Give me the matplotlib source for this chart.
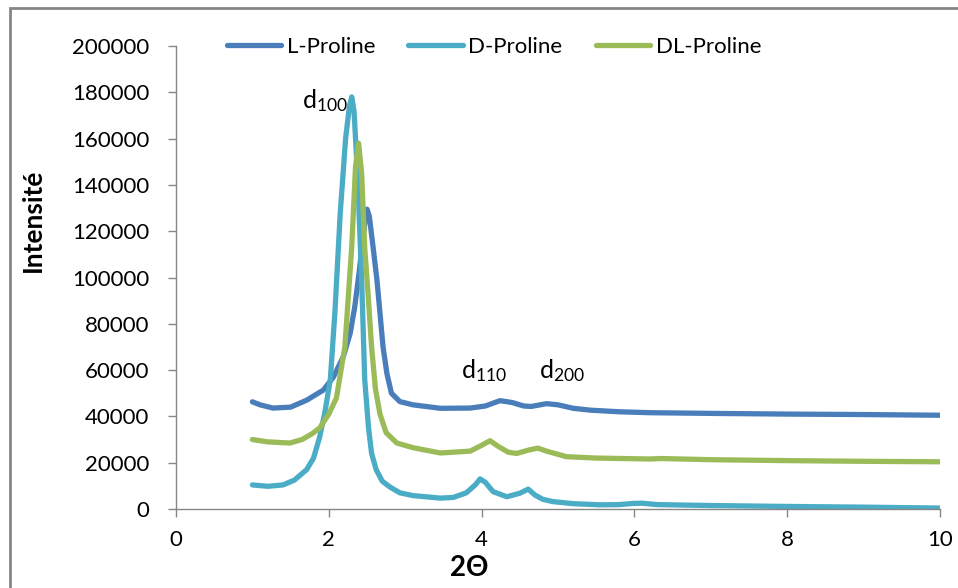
import matplotlib
matplotlib.use("Agg")
import matplotlib.pyplot as plt
from matplotlib.patches import Rectangle

plt.rcParams['font.family'] = ['Lato', 'DejaVu Sans']
plt.rcParams['mathtext.fontset'] = 'custom'
plt.rcParams['mathtext.rm'] = 'Lato'

# --- Data (intensities in counts) ---
x_L = [1.00, 1.10, 1.27, 1.50, 1.71, 1.93, 2.06, 2.19, 2.28, 2.34, 2.40, 2.45, 2.48, 2.50,
       2.53, 2.58, 2.63, 2.67, 2.71, 2.76, 2.82, 2.93, 3.10, 3.46, 3.85, 4.05, 4.24,
       4.40, 4.55, 4.65, 4.85, 5.00, 5.20, 5.42, 5.80, 6.20, 7.00, 8.00, 9.00, 10.0]
y_L = [46300, 45000, 43600, 44000, 47000, 51400, 57000, 65800, 75900, 87400, 103000, 118000, 126000, 129500,
       126500, 113000, 99000, 84600, 70000, 58600, 50000, 46400, 45000, 43500, 43600, 44500, 46800,
       46000, 44500, 44300, 45500, 45000, 43500, 42700, 42000, 41600, 41300, 41000, 40800, 40500]

x_D = [1.00, 1.20, 1.40, 1.55, 1.71, 1.80, 1.88, 1.95, 2.02, 2.08, 2.15, 2.22, 2.27, 2.30,
       2.33, 2.38, 2.43, 2.47, 2.52, 2.56, 2.62, 2.70, 2.80, 2.93, 3.10, 3.46, 3.63, 3.80,
       3.92, 3.98, 4.05, 4.15, 4.33, 4.50, 4.61, 4.70, 4.80, 4.93, 5.20, 5.55, 5.80, 5.98,
       6.10, 6.30, 7.00, 8.00, 9.00, 10.0]
y_D = [10400, 9800, 10400, 12500, 17000, 22000, 31000, 42000, 56000, 85000, 128000, 160000, 174000, 178000,
       172000, 142000, 99000, 56000, 35000, 24000, 17000, 12000, 9500, 7000, 5800, 4700, 5000, 7000,
       10500, 13000, 11500, 7500, 5300, 6800, 8600, 6000, 4200, 3200, 2300, 1800, 1900, 2400,
       2500, 1900, 1500, 1100, 800, 400]

x_DL = [1.00, 1.20, 1.49, 1.65, 1.78, 1.88, 2.00, 2.10, 2.21, 2.30, 2.35, 2.39, 2.43, 2.47,
        2.52, 2.56, 2.61, 2.67, 2.75, 2.89, 3.10, 3.46, 3.85, 4.00, 4.11, 4.22, 4.35, 4.46,
        4.62, 4.74, 4.85, 5.11, 5.50, 6.20, 6.35, 7.00, 8.00, 9.00, 10.0]
y_DL = [30000, 29000, 28500, 30000, 32500, 35000, 41000, 48000, 70000, 113000, 148000, 158000, 145000, 113000,
        90000, 70000, 52000, 41000, 33000, 28500, 26500, 24200, 25000, 27500, 29500, 27000, 24500, 24000,
        25500, 26300, 25000, 22600, 22000, 21600, 21800, 21300, 20900, 20600, 20400]

labels = ["L-Proline", "D-Proline", "DL-Proline"]
colors = ["#4A7EBB", "#4BACC6", "#9BBB59"]

peak_labels = [r"$\mathregular{d_{100}}$", r"$\mathregular{d_{110}}$", r"$\mathregular{d_{200}}$"]
peak_x = [1.65, 3.73, 4.75]
peak_y = [173000, 56500, 56500]

# --- Plot ---
fig = plt.figure(figsize=(9.58, 5.88), dpi=100)
ax = fig.add_axes([176/958, 1 - 509/588, 764/958, 463/588])

for xs, ys, lab, c in zip([x_L, x_D, x_DL], [y_L, y_D, y_DL], labels, colors):
    ax.plot(xs, ys, color=c, lw=3.8, label=lab, solid_capstyle="round", solid_joinstyle="round")

for t, px, py in zip(peak_labels, peak_x, peak_y):
    ax.text(px, py, t, fontsize=18, ha="left", va="baseline")

ax.set_xlim(0, 10)
ax.set_ylim(0, 200000)
ax.set_xticks(range(0, 11, 2))
ax.set_yticks(range(0, 200001, 20000))

for s in ["top", "right"]:
    ax.spines[s].set_visible(False)
for s in ["left", "bottom"]:
    ax.spines[s].set_color("#868686")
    ax.spines[s].set_linewidth(1.0)

ax.tick_params(axis="y", length=6, width=1.0, color="#868686", pad=13, labelsize=16)
ax.tick_params(axis="x", length=6, width=1.0, color="#868686", pad=9, labelsize=16)

fig.text(33/958, 1 - 220/588, "Intensité", rotation=90, ha="center", va="center",
         fontsize=19, fontweight="bold")
fig.text(469/958, 1 - 568/588, "2Θ", ha="center", va="center", fontsize=20, fontweight="bold")

fig.legend(loc="center", bbox_to_anchor=(494/958, 1 - 47/588), ncol=3, frameon=False,
           fontsize=16, handlelength=2.45, handletextpad=0.25, columnspacing=1.5, borderpad=0)

# chart border
fig.patches.append(Rectangle((10/958, -0.1), 1.2, 1 - 8/588 + 0.1, transform=fig.transFigure,
                             fill=False, edgecolor="#868686", lw=2))

fig.savefig("out.png", dpi=100)
